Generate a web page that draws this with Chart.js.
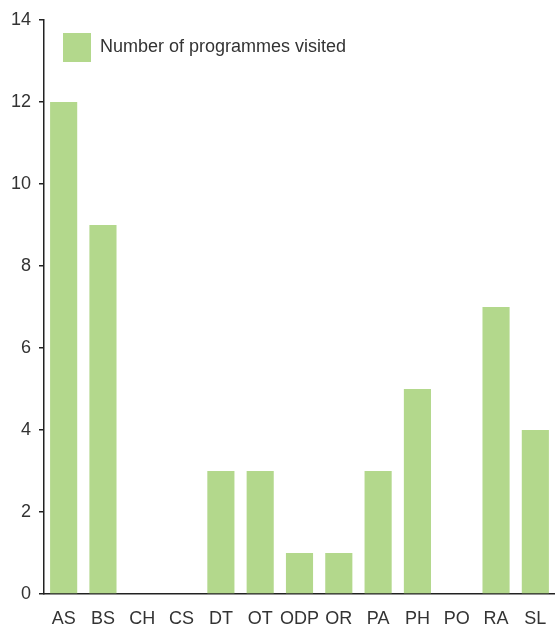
<!DOCTYPE html>
<html>
<head>
<meta charset="utf-8">
<style>
  html, body { margin: 0; padding: 0; background: #fff; overflow: hidden; }
  #wrap { width: 555px; height: 627px; position: relative; }
</style>
<script src="https://cdn.jsdelivr.net/npm/chart.js@4/dist/chart.umd.min.js"></script>
</head>
<body>
<div id="wrap"><canvas id="js--chart"></canvas></div>
<script>
const categories = ["AS", "BS", "CH", "CS", "DT", "OT", "ODP", "OR", "PA", "PH", "PO", "RA", "SL"];
const visited = [12, 9, 0, 0, 3, 3, 1, 1, 3, 5, 0, 7, 4];
const yTicks = [0, 2, 4, 6, 8, 10, 12, 14];

const green = "#b3d88c";
const ink = "#333333";
const font = { family: "Liberation Sans", size: 18 };

// push the legend a bit lower inside the plot area
const legendOffset = {
    id: "legendOffset",
    afterLayout(chart) {
        chart.legend.top += 12;
        chart.legend.bottom += 12;
        chart.legend.left -= 2;
        chart.legend.right -= 2;
    }
};

const data = {
    labels: categories,
    datasets: [
        {
            label: "Number of programmes visited",
            data: visited,
            backgroundColor: green,
            borderWidth: 0,
            categoryPercentage: 1,
            barPercentage: 0.69
        }
    ]
};

const config = {
    type: "bar",
    data: data,
    plugins: [legendOffset],
    options: {
        responsive: true,
        maintainAspectRatio: false,
        animation: false,
        layout: { padding: { top: 20, right: -3, left: 0, bottom: 0 } },
        plugins: {
            tooltip: { enabled: false },
            legend: {
                position: "chartArea",
                align: "start",
                labels: {
                    boxWidth: 28,
                    boxHeight: 29,
                    padding: 21,
                    color: ink,
                    font: font
                }
            }
        },
        scales: {
            x: {
                afterFit: (axis) => {
                    axis.height = 33;
                    axis.paddingLeft = 0;
                    axis.paddingRight = 0;
                },
                grid: { display: true, drawOnChartArea: false, drawTicks: false },
                border: { display: true, color: "#222", width: 1.5 },
                ticks: {
                    padding: 14,
                    color: ink,
                    font: font,
                    maxRotation: 0,
                    autoSkip: false
                }
            },
            y: {
                min: 0,
                max: 14,
                afterFit: (axis) => { axis.width = 44; },
                afterBuildTicks: (axis) => {
                    axis.ticks = yTicks.map(v => ({ value: v }));
                },
                grid: { display: true, drawOnChartArea: false, tickLength: 5, color: "#222", lineWidth: 1.5 },
                border: { display: true, color: "#222", width: 1.5 },
                ticks: {
                    padding: 8,
                    color: ink,
                    font: font
                }
            }
        }
    }
};

new Chart(document.getElementById("js--chart"), config);
</script>
</body>
</html>
